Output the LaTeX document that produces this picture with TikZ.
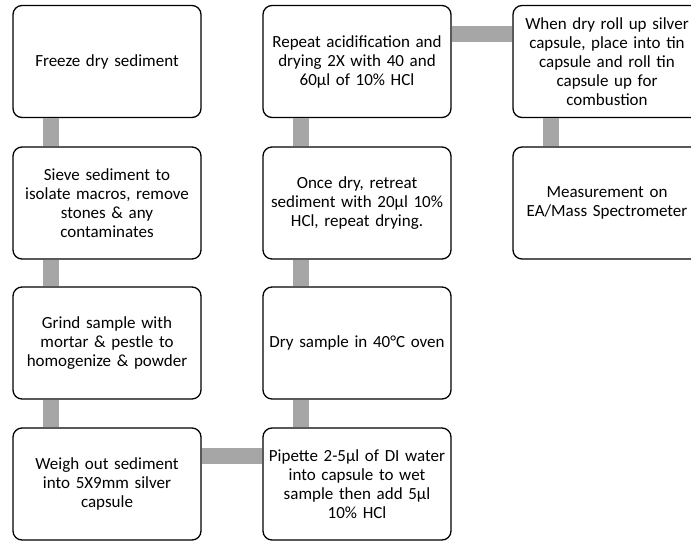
\documentclass[tikz,border=0pt]{standalone}
\usepackage{fontspec}
\setmainfont{Carlito}
\definecolor{bargray}{HTML}{A6A6A6}
\begin{document}
\begin{tikzpicture}[x=1pt,y=-1pt,
  stepbox/.style={draw=black,line width=1.3pt,fill=white,rounded corners=9pt,
    minimum width=188pt,minimum height=112pt,inner sep=0pt,
    text width=186pt,align=center,
    font=\fontsize{17pt}{19pt}\selectfont},
  bar/.style={draw=bargray,line width=16pt}]
\useasboundingbox (0,0) rectangle (691,541);
% nodes
\node[stepbox] (a) at (107,61.5) {Freeze dry sediment};
\node[stepbox] (b) at (107,203) {Sieve sediment to\\isolate macros, remove\\stones \& any\\contaminates};
\node[stepbox] (c) at (107,343) {Grind sample with\\mortar \& pestle to\\homogenize \& powder};
\node[stepbox] (d) at (107,484) {Weigh out sediment\\into 5X9mm silver\\capsule};
\node[stepbox] (e) at (357,484) {Pipette 2-5µl of DI water\\into capsule to wet\\sample then add 5µl\\10\% HCl};
\node[stepbox] (f) at (357,343) {Dry sample in 40°C oven};
\node[stepbox] (g) at (357,203) {Once dry, retreat\\sediment with 20µl 10\%\\HCl, repeat drying.};
\node[stepbox] (h) at (357,61.5) {Repeat acidification and\\drying 2X with 40 and\\60µl of 10\% HCl};
\node[stepbox] (i) at (607,61.5) {When dry roll up silver\\capsule, place into tin\\capsule and roll tin\\capsule up for\\combustion};
\node[stepbox] (j) at (607,203) {Measurement on\\EA/Mass Spectrometer};
% connectors
\draw[bar] ([xshift=-56pt]a.south) -- ([xshift=-56pt]b.north);
\draw[bar] ([xshift=-56pt]b.south) -- ([xshift=-56pt]c.north);
\draw[bar] ([xshift=-56pt]c.south) -- ([xshift=-56pt]d.north);
\draw[bar] ([yshift=28.5pt]d.east) -- ([yshift=28.5pt]e.west);
\draw[bar] ([xshift=-56pt]e.north) -- ([xshift=-56pt]f.south);
\draw[bar] ([xshift=-56pt]f.north) -- ([xshift=-56pt]g.south);
\draw[bar] ([xshift=-56pt]g.north) -- ([xshift=-56pt]h.south);
\draw[bar] ([yshift=27.5pt]h.east) -- ([yshift=27.5pt]i.west);
\draw[bar] ([xshift=-56pt]i.south) -- ([xshift=-56pt]j.north);
\end{tikzpicture}
\end{document}
